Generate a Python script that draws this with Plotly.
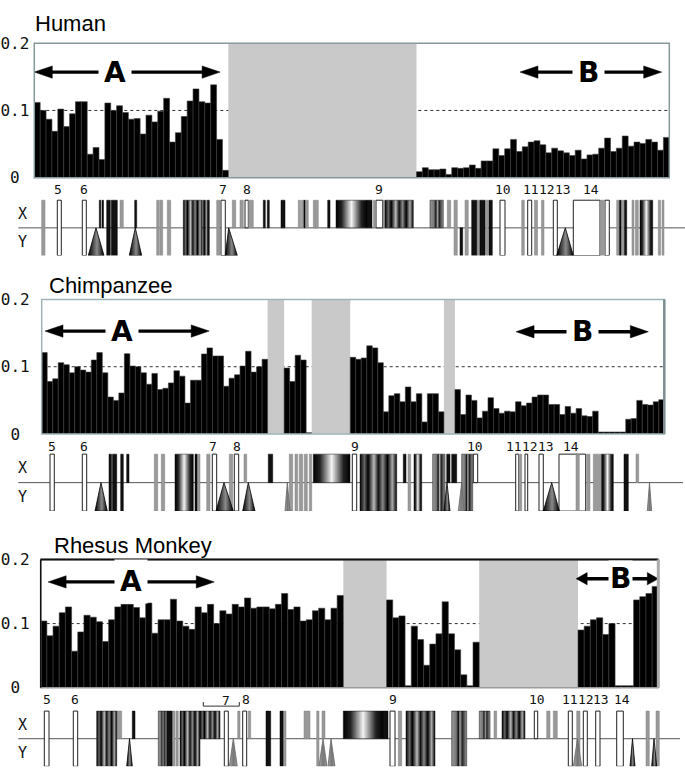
import plotly.graph_objects as go

W, H = 685, 777

# ------------------------------------------------------------------ data
species = ["Human", "Chimpanzee", "Rhesus Monkey"]

# window values (None = region without data, shaded grey)
human_values = ([0.112, 0.100, 0.087, 0.069, 0.102, 0.076, 0.095, 0.113, 0.113, 0.035,
                 0.045, 0.027, 0.111, 0.100, 0.107, 0.097, 0.087, 0.088, 0.065, 0.093,
                 0.083, 0.099, 0.118, 0.053, 0.067, 0.091, 0.114, 0.132, 0.113, 0.111,
                 0.138, 0.057, 0.011]
                + [None] * 32
                + [0.009, 0.015, 0.012, 0.012, 0.013, 0.005, 0.015, 0.014, 0.015, 0.019,
                   0.014, 0.025, 0.025, 0.043, 0.033, 0.043, 0.057, 0.039, 0.046, 0.053,
                   0.055, 0.049, 0.037, 0.044, 0.040, 0.037, 0.033, 0.041, 0.028, 0.034,
                   0.035, 0.044, 0.059, 0.039, 0.044, 0.062, 0.047, 0.053, 0.051, 0.057,
                   0.053, 0.041, 0.060])

chimp_values = ([0.121, 0.078, 0.082, 0.106, 0.103, 0.091, 0.100, 0.095, 0.092, 0.110,
                 0.121, 0.091, 0.055, 0.050, 0.061, 0.125, 0.101, 0.100, 0.091, 0.074,
                 0.090, 0.066, 0.068, 0.076, 0.094, 0.086, 0.046, 0.080, 0.080, 0.119,
                 0.128, 0.116, 0.116, 0.071, 0.083, 0.088, 0.101, 0.123, 0.092, 0.100,
                 0.111]
                + [None] * 3
                + [0.098, 0.078, 0.117, 0.110, 0.002]
                + [None] * 7
                + [0.114, 0.111, 0.113, 0.131, 0.128, 0.106, 0.033, 0.057, 0.060, 0.048,
                   0.070, 0.048, 0.060, 0.018, 0.060, 0.060, 0.033]
                + [None] * 2
                + [0.066, 0.029, 0.058, 0.050, 0.024, 0.034, 0.054, 0.038, 0.031, 0.034,
                   0.033, 0.048, 0.042, 0.046, 0.055, 0.058, 0.058, 0.044, 0.044, 0.029,
                   0.041, 0.031, 0.038, 0.027, 0.026, 0.034, 0.003, 0.003, 0.003, 0.003,
                   0.003, 0.022, 0.023, 0.050, 0.044, 0.043, 0.048, 0.051])

rhesus_values = ([0.104, 0.081, 0.096, 0.117, 0.126, 0.057, 0.087, 0.113, 0.110, 0.103,
                  0.072, 0.106, 0.126, 0.130, 0.130, 0.125, 0.109, 0.132, 0.085, 0.106,
                  0.106, 0.138, 0.104, 0.096, 0.091, 0.126, 0.117, 0.130, 0.100, 0.120,
                  0.115, 0.130, 0.126, 0.140, 0.124, 0.126, 0.126, 0.123, 0.130, 0.147,
                  0.122, 0.126, 0.104, 0.106, 0.120, 0.124, 0.106, 0.124, 0.144]
                 + [None] * 7
                 + [0.137, 0.109, 0.112, 0.003, 0.096, 0.075, 0.035, 0.068, 0.084, 0.134,
                    0.084, 0.059, 0.020, 0.003, 0.071]
                 + [None] * 16
                 + [0.090, 0.096, 0.106, 0.109, 0.083, 0.100, 0.003, 0.003, 0.003, 0.137,
                    0.142, 0.147, 0.158])

ytick_vals = [0, 0.1, 0.2]
ytick_text = ["0\u00a0", "0.1", "0.2"]

# region arrows: (label, left bin, right bin, height, label bin)
human_arrows = [("A", 0.0, 31.6, 0.157, 13.7), ("B", 82.6, 106.7, 0.157, 94.3)]
chimp_arrows = [("A", 0.6, 30.4, 0.153, 14.5), ("B", 86.1, 110.1, 0.152, 98.2)]
rhesus_arrows = [("A", 1.2, 28.1, 0.165, 14.7), ("B", 86.7, 100.0, 0.170, 93.8)]

# gene maps: (start, end, row, kind) positions along the map
human_blocks = [
    (41.7, 45.0, "XY", "g"), (57.3, 61.3, "XY", "w"), (82.3, 86.3, "XY", "w"),
    (99.3, 100.8, "X", "k"), (102.0, 103.5, "X", "k"),
    (106.7, 110.3, "XY", "k"), (111.3, 117.3, "XY", "k"), (120.0, 123.3, "X", "g"),
    (134.7, 136.7, "X", "k"), (156.7, 159.3, "XY", "g"), (160.0, 162.7, "XY", "g"),
    (167.3, 170.7, "XY", "g"), (183.3, 202.3, "XY", "stripe"),
    (203.3, 205.3, "XY", "k"), (205.8, 207.3, "XY", "g"), (207.5, 209.3, "XY", "k"),
    (216.7, 220.0, "XY", "g"), (221.0, 225.3, "XY", "w"), (232.3, 235.7, "X", "g"),
    (240.0, 243.3, "X", "g"), (245.0, 248.3, "X", "w"), (248.5, 253.3, "X", "g"),
    (263.3, 265.3, "X", "k"), (267.3, 269.3, "X", "k"), (281.0, 285.0, "X", "k"),
    (298.3, 300.5, "X", "g"), (301.5, 304.0, "X", "g"), (304.0, 305.0, "X", "k"),
    (305.5, 308.3, "X", "g"), (313.3, 316.0, "X", "g"), (316.5, 318.3, "X", "g"),
    (327.7, 330.0, "X", "k"), (336.0, 367.0, "X", "bwb"), (367.0, 372.0, "X", "k"),
    (373.5, 375.0, "X", "g"), (376.0, 382.7, "X", "w"), (383.0, 384.5, "X", "g"),
    (385.0, 413.3, "X", "stripe"), (430.0, 443.3, "X", "gstripe"),
    (447.3, 450.7, "X", "g"), (454.0, 457.3, "XY", "g"), (460.0, 462.7, "Y", "k"),
    (465.0, 468.3, "XY", "g"), (471.7, 476.7, "XY", "k"), (476.7, 480.0, "XY", "g"),
    (480.0, 485.0, "XY", "k"), (485.7, 488.3, "XY", "g"), (489.0, 492.3, "XY", "k"),
    (500.0, 505.0, "XY", "w"), (521.7, 524.3, "XY", "g"), (527.7, 531.7, "XY", "w"),
    (534.5, 537.5, "XY", "g"), (541.5, 544.0, "XY", "g"), (553.3, 557.3, "XY", "w"),
    (573.3, 600.0, "XY", "w"), (600.0, 605.0, "XY", "g"), (605.0, 609.3, "XY", "w"),
    (616.7, 619.0, "XY", "g"), (619.5, 621.0, "XY", "k"), (621.5, 624.0, "XY", "g"),
    (624.5, 626.7, "XY", "k"), (632.0, 634.0, "XY", "g"), (635.5, 638.3, "XY", "g"),
    (640.0, 652.7, "XY", "bwb"), (658.3, 660.5, "XY", "g"), (662.0, 664.0, "XY", "g"),
]
human_triangles = [(88.3, 104.0, 96.0, "dark"), (129.3, 141.7, 135.3, "dark"),
                   (225.3, 237.3, 228.7, "dark"), (556.7, 573.3, 565.3, "dark")]
human_exons = [("5", 58.3), ("6", 84.3), ("7", 222.7), ("8", 247.3), ("9", 379.0),
               ("10", 503.3), ("11", 531.0), ("12", 547.0), ("13", 563.0), ("14", 590.7)]
human_span = (18.3, 685.0)

chimp_blocks = [
    (50.0, 54.3, "XY", "w"), (82.3, 86.7, "XY", "w"), (109.0, 111.5, "XY", "k"),
    (112.5, 116.7, "XY", "k"), (120.7, 123.3, "XY", "k"), (126.7, 129.0, "X", "k"),
    (154.3, 157.7, "XY", "g"), (161.3, 164.7, "XY", "g"), (175.0, 193.3, "XY", "bwb"),
    (195.0, 197.0, "XY", "k"), (197.5, 200.0, "XY", "g"), (206.7, 210.0, "XY", "g"),
    (212.3, 216.7, "XY", "w"), (229.3, 232.7, "XY", "g"), (234.3, 238.7, "XY", "w"),
    (244.0, 246.7, "X", "g"), (268.3, 272.7, "X", "k"),
    (289.3, 292.7, "XY", "g"), (295.0, 297.7, "XY", "g"), (299.3, 302.7, "XY", "g"),
    (304.3, 307.3, "XY", "g"), (309.3, 311.7, "XY", "g"), (313.3, 350.0, "X", "bwb"),
    (352.3, 356.7, "XY", "w"), (360.0, 396.7, "XY", "stripe"), (403.3, 406.0, "X", "k"),
    (408.0, 410.7, "XY", "g"), (414.0, 421.7, "XY", "bwb"), (432.7, 445.0, "XY", "gstripe"),
    (446.7, 450.0, "X", "k"), (451.7, 456.7, "X", "k"), (461.7, 472.7, "XY", "gstripe"),
    (473.3, 477.7, "X", "w"), (515.7, 518.5, "XY", "w"), (518.5, 521.7, "XY", "g"),
    (525.0, 527.7, "XY", "w"), (539.0, 543.3, "XY", "w"), (559.0, 585.7, "XY", "w"),
    (576.0, 579.3, "XY", "g"), (586.7, 590.0, "XY", "g"), (593.3, 601.7, "XY", "g"),
    (601.7, 613.3, "XY", "bwb"), (624.0, 628.3, "XY", "k"), (636.0, 638.7, "X", "g"),
]
chimp_triangles = [(95.0, 107.3, 101.0, "dark"), (216.0, 233.3, 224.0, "dark"),
                   (242.7, 255.0, 248.3, "dark"), (285.0, 290.0, 287.3, "light"),
                   (444.0, 450.0, 447.0, "dark"), (458.3, 464.0, 461.7, "light"),
                   (543.3, 559.3, 551.7, "dark"), (647.3, 651.7, 649.5, "light")]
chimp_exons = [("5", 52.3), ("6", 84.3), ("7", 213.3), ("8", 236.7), ("9", 355.0),
               ("10", 475.0), ("11", 514.0), ("12", 530.0), ("13", 546.0), ("14", 571.0)]
chimp_span = (18.3, 683.0)

rhesus_blocks = [
    (44.3, 49.0, "XY", "w"), (73.3, 77.7, "XY", "w"), (96.7, 116.7, "XY", "stripe"),
    (116.7, 121.7, "X", "g"), (132.3, 135.0, "X", "k"), (158.3, 166.7, "XY", "gstripe"),
    (166.7, 172.0, "XY", "k"), (172.0, 175.0, "XY", "g"), (176.0, 178.3, "XY", "g"),
    (180.0, 200.0, "XY", "stripe"), (200.0, 220.0, "X", "stripe"),
    (224.3, 228.3, "XY", "w"), (237.7, 240.0, "X", "g"), (242.7, 246.7, "XY", "w"),
    (248.3, 250.7, "X", "g"), (266.0, 270.7, "XY", "k"), (280.0, 283.0, "XY", "k"),
    (283.0, 286.0, "XY", "g"), (304.0, 310.0, "X", "g"), (316.7, 319.0, "XY", "g"),
    (322.0, 325.0, "X", "g"), (343.3, 383.0, "X", "bwb"), (383.0, 388.0, "X", "k"),
    (390.0, 395.0, "XY", "w"), (398.3, 401.7, "XY", "g"), (406.0, 435.0, "XY", "stripe"),
    (451.7, 466.7, "XY", "gstripe"), (479.3, 490.0, "X", "gstripe"),
    (494.0, 496.7, "X", "g"), (502.0, 525.0, "X", "stripe"), (534.3, 537.7, "X", "w"),
    (546.7, 550.0, "X", "g"), (553.3, 557.3, "X", "g"), (568.3, 572.3, "XY", "w"),
    (576.7, 580.0, "XY", "g"), (583.3, 587.3, "XY", "w"), (595.7, 600.0, "XY", "w"),
    (616.7, 623.3, "XY", "w"), (646.0, 649.3, "XY", "g"), (656.0, 659.3, "XY", "g"),
]
rhesus_triangles = [(126.7, 132.3, 129.5, "dark"), (229.3, 237.3, 233.3, "light"),
                    (319.0, 327.0, 323.0, "light"), (328.0, 335.0, 331.0, "light"),
                    (573.3, 581.7, 577.5, "light"), (630.0, 635.0, 632.5, "dark"),
                    (651.7, 656.7, 654.0, "dark")]
rhesus_exons = [("5", 46.7), ("6", 75.0), ("8", 246.0), ("9", 393.3), ("10", 536.7),
                ("11", 570.0), ("12", 586.0), ("13", 601.0), ("14", 621.7)]
rhesus_span = (18.3, 680.0)
rhesus_bracket = ("7", 203.3, 239.3)

# ------------------------------------------------------------------ style / layout
panels = [
    dict(name=species[0], values=human_values, arrows=human_arrows,
         blocks=human_blocks, tris=human_triangles, exons=human_exons, span=human_span,
         bar_box=(34.3, 35.0, 669.3, 173.0), gene_box=(196.0, 252.7),
         title_xy=(32.7, 14.5), exon_y=1.38, standoff=4,
         frame="#879a9b", head=[18, 18]),
    dict(name=species[1], values=chimp_values, arrows=chimp_arrows,
         blocks=chimp_blocks, tris=chimp_triangles, exons=chimp_exons, span=chimp_span,
         bar_box=(41.7, 297.7, 664.3, 435.7), gene_box=(456.3, 514.7),
         title_xy=(46.7, 283.5), exon_y=1.28, standoff=11,
         frame="#9fb2b7", head=[18, 18]),
    dict(name=species[2], values=rhesus_values, arrows=rhesus_arrows,
         blocks=rhesus_blocks, tris=rhesus_triangles, exons=rhesus_exons, span=rhesus_span,
         bar_box=(40.7, 564.3, 658.3, 695.7), gene_box=(719.7, 776.3),
         title_xy=(51.7, 549.5), exon_y=1.42, standoff=10,
         frame="#999999", head=[18, 11]),
]
GENE_TOP = 1.75   # extra headroom in gene-map units for exon numbers

GRAD = {
    "bwb": [[0, "#000"], [0.18, "#222"], [0.5, "#f4f4f4"], [0.82, "#222"], [1, "#000"]],
    "stripe": [[0, "#000"], [0.12, "#666"], [0.22, "#000"], [0.38, "#bbb"], [0.5, "#111"],
               [0.62, "#888"], [0.75, "#000"], [0.88, "#aaa"], [1, "#000"]],
    "gstripe": [[0, "#999"], [0.3, "#777"], [0.45, "#111"], [0.55, "#aaa"], [0.7, "#222"],
                [1, "#999"]],
}
TRI = {
    "dark": ([[0, "#000"], [0.35, "#555"], [0.55, "#8a8a8a"], [1, "#000"]], "#000"),
    "light": ([[0, "#aaa"], [0.5, "#777"], [1, "#999"]], "#666"),
}
ROW = {"XY": (-1.0, 2.0), "X": (0.0, 1.0), "Y": (-1.0, 1.0)}
BAR_STYLE = {"w": ("white", "#222", 1.0), "g": ("#9a9a9a", "#808080", 0.5),
             "k": ("#111", "#000", 0.5)}
MONO = "DejaVu Sans Mono"

fig = go.Figure()
layout = dict(width=W, height=H, margin=dict(l=0, r=0, t=0, b=0),
              paper_bgcolor="white", plot_bgcolor="rgba(0,0,0,0)", barmode="overlay",
              showlegend=False)
shapes, annotations = [], []

for i, p in enumerate(panels):
    bx, gx = 2 * i + 1, 2 * i + 2
    bxn = "x" if bx == 1 else f"x{bx}"
    byn = "y" if bx == 1 else f"y{bx}"
    gxn, gyn = f"x{gx}", f"y{gx}"
    L, T, R, B = p["bar_box"]
    n = len(p["values"])
    ppb = (R - L) / n
    ppv = (B - T) / 0.2

    layout["xaxis" if bx == 1 else f"xaxis{bx}"] = dict(
        domain=[L / W, R / W], range=[0, n], visible=False, anchor=byn)
    layout["yaxis" if bx == 1 else f"yaxis{bx}"] = dict(
        domain=[1 - B / H, 1 - T / H], range=[0, 0.2], anchor=bxn,
        tickvals=ytick_vals, ticktext=ytick_text, showgrid=False, zeroline=False,
        showline=False, ticks="", ticklabelstandoff=p["standoff"],
        tickfont=dict(family=MONO, size=16, color="#111"))
    gt, gb = p["gene_box"]
    unit = (gb - gt) / 2.0
    top_px = gt - (GENE_TOP - 1.0) * unit
    layout[f"xaxis{gx}"] = dict(domain=[0, 1], range=[0, W], visible=False, anchor=gyn)
    layout[f"yaxis{gx}"] = dict(domain=[max(0.0, 1 - gb / H), 1 - top_px / H],
                                range=[-1, GENE_TOP], visible=False, anchor=gxn)

    # histogram bars
    xs = [k + 0.5 for k, v in enumerate(p["values"]) if v is not None]
    ys = [v for v in p["values"] if v is not None]
    fig.add_trace(go.Bar(x=xs, y=ys, width=[1] * len(xs), xaxis=bxn, yaxis=byn,
                         marker=dict(color="black", line=dict(color="#3c3c3c", width=0.6)),
                         hoverinfo="skip"))

    # dotted 0.1 line, grey no-data regions
    shapes.append(dict(type="line", xref=f"{bxn} domain", yref=byn, x0=0, x1=1,
                       y0=0.1, y1=0.1, layer="below",
                       line=dict(color="#333", width=1, dash="dot")))
    k = 0
    while k < n:
        if p["values"][k] is None:
            s = k
            while k < n and p["values"][k] is None:
                k += 1
            shapes.append(dict(type="rect", xref=bxn, yref=f"{byn} domain", x0=s, x1=k,
                               y0=0, y1=1, fillcolor="#c9c9c9", line=dict(width=0),
                               layer="below"))
        else:
            k += 1
    # frame
    shapes.append(dict(type="rect", xref=f"{bxn} domain", yref=f"{byn} domain",
                       x0=0, x1=1, y0=0, y1=1, line=dict(color=p["frame"], width=1.5)))
    if i == 2:
        shapes.append(dict(type="line", xref=f"{bxn} domain", yref=f"{byn} domain",
                           x0=0, x1=1, y0=1, y1=1, line=dict(color="#111", width=2)))
        shapes.append(dict(type="line", xref=f"{bxn} domain", yref=f"{byn} domain",
                           x0=0, x1=0, y0=0, y1=1, line=dict(color="#111", width=1.5)))
        shapes.append(dict(type="line", xref=f"{bxn} domain", yref=f"{byn} domain",
                           x0=1, x1=1, y0=0, y1=1, line=dict(color="#aaa", width=3)))
    if i == 1:
        shapes.append(dict(type="line", xref=f"{bxn} domain", yref=f"{byn} domain",
                           x0=1, x1=1, y0=0, y1=1, line=dict(color="#7d8e93", width=2.5)))

    # arrows
    for (lab, x0, x1, yv, lx), hpx in zip(p["arrows"], p["head"]):
        hl = hpx / ppb
        hh = 6.3 / ppv
        fig.add_trace(go.Scatter(x=[x0 + hl * 0.8, x1 - hl * 0.8], y=[yv, yv], mode="lines",
                                 line=dict(color="black", width=3.3), xaxis=bxn, yaxis=byn,
                                 hoverinfo="skip"))
        for tip, back in ((x0, x0 + hl), (x1, x1 - hl)):
            fig.add_trace(go.Scatter(x=[tip, back, back, tip], y=[yv, yv + hh, yv - hh, yv],
                                     mode="lines", fill="toself", fillcolor="black",
                                     line=dict(color="black", width=0.5), xaxis=bxn,
                                     yaxis=byn, hoverinfo="skip"))
        annotations.append(dict(text=f"<b>{lab}</b>", x=lx, y=yv, xref=bxn, yref=byn,
                                showarrow=False, bgcolor="white",
                                borderpad=5 if hpx > 12 else 1,
                                font=dict(family="DejaVu Sans", size=28, color="black")))

    # title
    tx, ty = p["title_xy"]
    annotations.append(dict(text=p["name"], x=tx / W, y=1 - ty / H, xref="paper",
                            yref="paper", xanchor="left", yanchor="middle",
                            showarrow=False,
                            font=dict(family="Liberation Sans", size=22, color="black")))

    # gene map axis line
    s0, s1 = p["span"]
    shapes.append(dict(type="line", xref=gxn, yref=gyn, x0=s0, x1=s1, y0=0, y1=0,
                       layer="below", line=dict(color="#555", width=1)))
    # plain boxes
    for kind, (fc, lc, lw) in BAR_STYLE.items():
        sel = [b for b in p["blocks"] if b[3] == kind]
        if not sel:
            continue
        fig.add_trace(go.Bar(
            x=[(b[0] + b[1]) / 2 for b in sel], width=[b[1] - b[0] for b in sel],
            base=[ROW[b[2]][0] for b in sel], y=[ROW[b[2]][1] for b in sel],
            xaxis=gxn, yaxis=gyn, hoverinfo="skip",
            marker=dict(color=fc, line=dict(color=lc, width=lw))))
    # shaded clusters
    for (a, b, row, kind) in p["blocks"]:
        if kind not in GRAD:
            continue
        y0 = ROW[row][0]
        y1 = y0 + ROW[row][1]
        fig.add_trace(go.Scatter(x=[a, b, b, a, a], y=[y0, y0, y1, y1, y0], mode="lines",
                                 fill="toself", line=dict(color="#111", width=0.5),
                                 fillgradient=dict(type="horizontal", colorscale=GRAD[kind]),
                                 xaxis=gxn, yaxis=gyn, hoverinfo="skip"))
    # triangles
    for (a, b, apex, tone) in p["tris"]:
        cs, lc = TRI[tone]
        fig.add_trace(go.Scatter(x=[a, apex, b, a], y=[-1, 0, -1, -1], mode="lines",
                                 fill="toself", line=dict(color=lc, width=0.8),
                                 fillgradient=dict(type="horizontal", colorscale=cs),
                                 xaxis=gxn, yaxis=gyn, hoverinfo="skip"))
    # exon numbers
    for lab, xv in p["exons"]:
        annotations.append(dict(text=lab, x=xv, y=p["exon_y"], xref=gxn, yref=gyn,
                                showarrow=False,
                                font=dict(family=MONO, size=13, color="#111")))
    # X / Y labels
    for lab, yv in (("X", 0.5), ("Y", -0.5)):
        annotations.append(dict(text=lab, x=22.7, y=yv, xref=gxn, yref=gyn,
                                showarrow=False,
                                font=dict(family=MONO, size=15, color="#111")))
    if i == 2:
        lab, a, b = rhesus_bracket
        fig.add_trace(go.Scatter(x=[a, a, b, b], y=[1.33, 1.18, 1.18, 1.33], mode="lines",
                                 line=dict(color="#333", width=1), xaxis=gxn, yaxis=gyn,
                                 hoverinfo="skip"))
        annotations.append(dict(text=lab, x=(a + b) / 2 + 5, y=1.38, xref=gxn, yref=gyn,
                                showarrow=False,
                                font=dict(family=MONO, size=13, color="#111")))

layout["shapes"] = shapes
layout["annotations"] = annotations
fig.update_layout(**layout)

fig.write_html("out.html", config={"displayModeBar": False},
               post_script="document.body.style.margin='0';document.body.style.overflow='hidden';")
